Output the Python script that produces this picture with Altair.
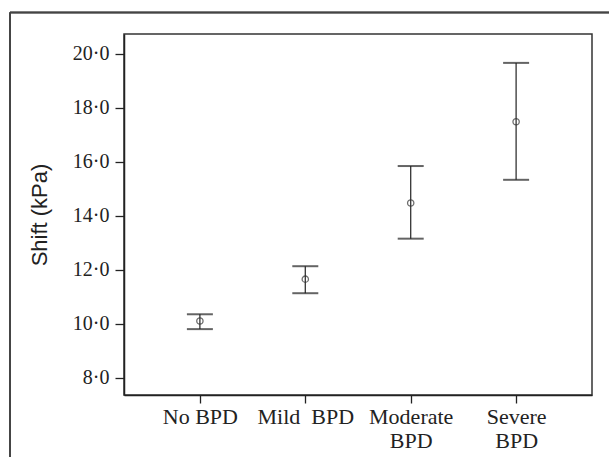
import altair as alt
import pandas as pd

groups = ["No BPD", "Mild BPD", "Moderate BPD", "Severe BPD"]
means = [10.11, 11.66, 14.48, 17.49]
lower = [9.81, 11.14, 13.16, 15.34]
upper = [10.36, 12.14, 15.85, 19.67]
y_ticks = [8, 10, 12, 14, 16, 18, 20]

df = pd.DataFrame({"group": groups, "mean": means, "lower": lower, "upper": upper})

x_enc = alt.X(
    "group:N",
    sort=groups,
    scale=alt.Scale(type="point", padding=0.72),
    axis=alt.Axis(
        title=None,
        labelAngle=0,
        labelFont="Liberation Serif",
        labelFontSize=22,
        labelColor="#222",
        labelPadding=3,
        labelLineHeight=24,
        labelBaseline="top",
        tickSize=8,
        tickColor="#222",
        tickWidth=1.3,
        domainColor="#222",
        domainWidth=1.5,
        labelExpr="datum.value == 'Moderate BPD' ? ['Moderate', 'BPD'] : datum.value == 'Severe BPD' ? ['Severe', 'BPD'] : datum.value == 'Mild BPD' ? 'Mild\u00a0 BPD' : datum.value",
    ),
)

y_scale = alt.Scale(domain=[7.37, 20.74], nice=False, zero=False)
y_axis = alt.Axis(
    title="Shift (kPa)",
    titleFont="Liberation Sans",
    titleFontSize=22,
    titleFontWeight="normal",
    titleColor="#222",
    titlePadding=21,
    values=y_ticks,
    labelFont="Liberation Serif",
    labelFontSize=20,
    labelColor="#222",
    labelPadding=6,
    tickSize=9,
    tickColor="#222",
    tickWidth=1.3,
    domainColor="#222",
    domainWidth=1.5,
    grid=False,
    labelExpr="replace(format(datum.value, '.1f'), '.', '·')",
)

base = alt.Chart(df)

rule = base.mark_rule(color="#333", strokeWidth=1.3).encode(
    x=x_enc,
    y=alt.Y("lower:Q", scale=y_scale, axis=y_axis),
    y2="upper:Q",
)
cap_lo = base.mark_tick(color="#222", size=26, thickness=2).encode(
    x=alt.X("group:N", sort=groups), y="lower:Q"
)
cap_hi = base.mark_tick(color="#222", size=26, thickness=2).encode(
    x=alt.X("group:N", sort=groups), y="upper:Q"
)
pts = base.mark_point(filled=False, color="#333", size=40, strokeWidth=1.3).encode(
    x=alt.X("group:N", sort=groups), y="mean:Q"
)

frame_top = alt.Chart(df).mark_rule(color="#444", strokeWidth=1.5).encode(
    x=alt.value(-114), x2=alt.value(490), y=alt.value(-21.5)
)
frame_left = alt.Chart(df).mark_rule(color="#444", strokeWidth=1.5).encode(
    x=alt.value(-114), y=alt.value(-21.5), y2=alt.value(430)
)

chart = (
    alt.layer(rule, cap_lo, cap_hi, pts, frame_top, frame_left)
    .properties(
        width=468,
        height=361,
        autosize=alt.AutoSizeParams(type="none"),
        padding={"left": 124, "top": 34, "right": 17, "bottom": 62},
        background="white",
    )
    .configure_view(stroke="#333", strokeWidth=1.5)
)

chart.save("out.html", embed_options={"renderer": "svg", "actions": False})
